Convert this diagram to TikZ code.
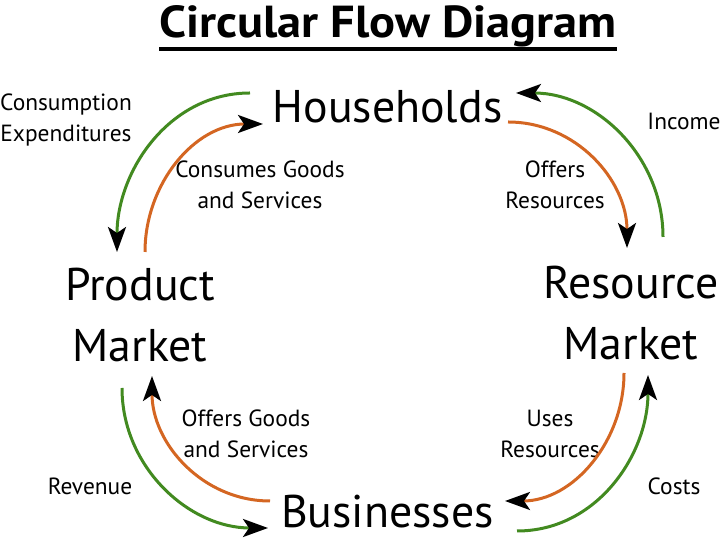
\documentclass[tikz,border=0pt]{standalone}
\usepackage{fontspec}
\setmainfont{PT Sans}
\usepackage{graphicx}
\usepackage{tikz}
\usetikzlibrary{arrows.meta}
\definecolor{flowgreen}{RGB}{66,138,32}
\definecolor{floworange}{RGB}{212,102,34}

\begin{document}
\begin{tikzpicture}[
  x=1bp, y=1bp,
  big/.style={font=\fontsize{46}{62}\selectfont, inner sep=0pt, align=center},
  lbl/.style={font=\fontsize{23.5}{31}\selectfont, inner sep=0pt, align=center},
  garr/.style={line width=3bp, flowgreen, -{Stealth[length=25bp, width=18bp, inset=6bp, black]}},
  oarr/.style={line width=3bp, floworange, -{Stealth[length=25bp, width=18bp, inset=6bp, black]}},
]
\useasboundingbox (0,0) rectangle (720,540);

% Title
\node[font=\fontsize{45}{50}\selectfont\bfseries, inner sep=0pt, anchor=base] (title) at (388,502) {\scalebox{1.08}[1]{Circular Flow Diagram}};
\draw[line width=4bp] ([yshift=-11bp]title.base west) -- ([yshift=-11bp]title.base east);

% Sectors
\node[big, anchor=base] (hh) at (387.5,417) {Households};
\node[big] (pm) at (140,225) {Product\\Market};
\node[big] (rm) at (631,227) {Resource\\Market};
\node[big, anchor=base, text depth=0pt] (bs) at (387.5,12) {Businesses};

% Flow labels
\node[lbl] (ce) at (66,420) {Consumption\\Expenditures};
\node[lbl] (cg) at (260,355) {Consumes Goods\\and Services};
\node[lbl] (inc) at (684,419) {Income};
\node[lbl] (ofr) at (555,355) {Offers\\Resources};
\node[lbl] (ofg) at (246,106) {Offers Goods\\and Services};
\node[lbl] (rev) at (90,54) {Revenue};
\node[lbl] (ur) at (550,106) {Uses\\Resources};
\node[lbl] (cost) at (674,54) {Costs};

% Money flows (green)
\draw[garr] ([shift={(-137.5,30)}]hh.base) to[out=180,in=90] ([shift={(-23,63)}]pm.center);
\draw[garr] ([shift={(32,76)}]rm.center) to[out=90,in=0] ([shift={(128.5,30)}]hh.base);
\draw[garr] ([shift={(-18,-73)}]pm.center) to[out=-90,in=180] ([shift={(-119.5,0)}]bs.base);
\draw[garr] ([shift={(129.5,-3)}]bs.base) to[out=0,in=-90] ([shift={(17,-62)}]rm.center);

% Real flows (orange)
\draw[oarr] ([shift={(5,63)}]pm.center) to[out=90,in=180] ([shift={(-124.5,-1)}]hh.base);
\draw[oarr] ([shift={(120.5,1)}]hh.base) to[out=0,in=90] ([shift={(-4,65)}]rm.center);
\draw[oarr] ([shift={(-117.5,27)}]bs.base) to[out=180,in=-90] ([shift={(12,-61)}]pm.center);
\draw[oarr] ([shift={(-7,-60)}]rm.center) to[out=-90,in=0] ([shift={(117.5,27)}]bs.base);

\end{tikzpicture}
\end{document}
